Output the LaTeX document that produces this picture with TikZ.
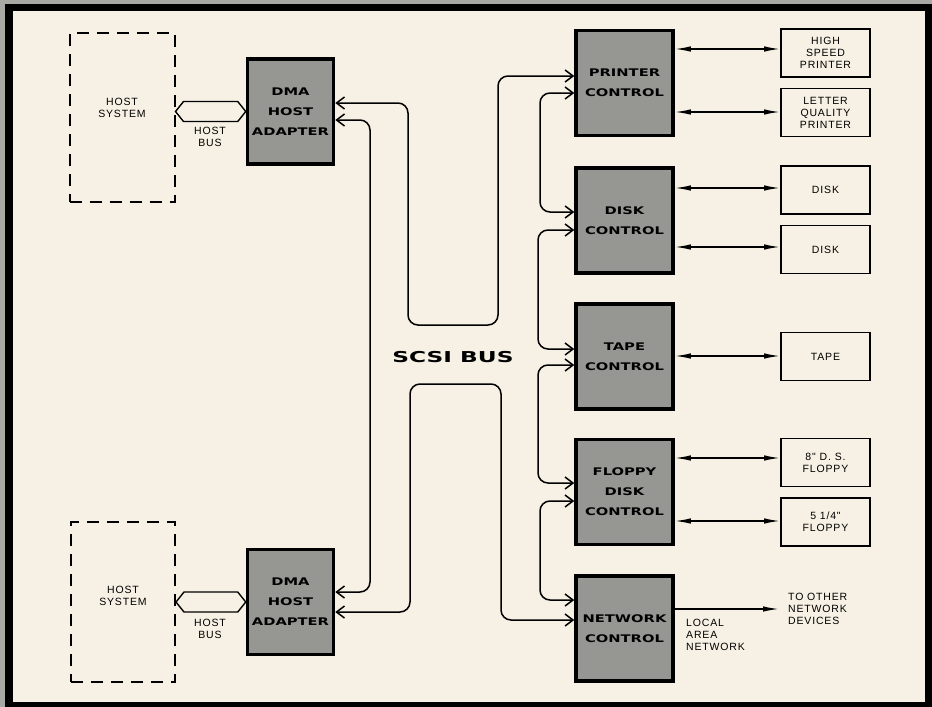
\documentclass[tikz,border=0pt]{standalone}
\usepackage{fontspec}
\usepackage{tikz}
\usetikzlibrary{arrows.meta,calc}
\newfontfamily\wideface[FakeStretch=1.4]{DejaVu Sans Bold}
\newfontfamily\busface[FakeStretch=1.55]{DejaVu Sans Bold}
\newfontfamily\plainface[LetterSpace=8]{Liberation Sans}
\definecolor{paper}{RGB}{246,241,228}
\definecolor{mount}{RGB}{168,168,164}
\definecolor{boxgray}{RGB}{150,150,146}

\begin{document}
\begin{tikzpicture}[x=1pt,y=-1pt,
  ctl/.style={draw,line width=3.5pt,fill=boxgray,minimum width=97pt,minimum height=105pt,
              align=center,inner sep=2pt,font=\wideface\fontsize{10.5}{20}\selectfont},
  dev/.style={draw,line width=1.8pt,fill=paper,minimum width=89pt,minimum height=48pt,
              align=center,font=\plainface\fontsize{10.5}{12}\selectfont},
  host/.style={draw,line width=2pt,dash pattern=on 12pt off 8pt,align=center,
               font=\plainface\fontsize{10.5}{12}\selectfont},
  lbl/.style={align=left,inner sep=0pt,font=\plainface\fontsize{10.5}{12}\selectfont},
  bus/.style={line width=1.5pt,rounded corners=10pt,
              {Straight Barb[length=8pt,width=12pt]}-{Straight Barb[length=8pt,width=12pt]}},
  link/.style={line width=1.5pt,{Latex[length=16pt,width=5.5pt]}-{Latex[length=16pt,width=5.5pt]}},
  hbus/.style={line width=1.4pt,line join=miter}
]
% mount and frame
\fill[mount] (0,0) rectangle (932,707);
\fill[black] (5,4) rectangle (932,707);
\fill[paper] (13,11) rectangle (925,702);

% hosts and adapters
\node[host,minimum width=105pt,minimum height=169pt] (hs1) at (122,117.5) {HOST\\SYSTEM\\[7pt]};
\node[host,minimum width=104pt,minimum height=160pt] (hs2) at (123,602) {HOST\\SYSTEM\\};
\node[ctl,minimum width=86pt] (dma1) at (290.5,111.5) {DMA\\HOST\\ADAPTER};
\node[ctl,minimum width=86pt] (dma2) at (290.5,602) {DMA\\HOST\\ADAPTER};

\draw[hbus] (hs1.east |- dma1.west) -- ++(8,-10) -- ($(dma1.west)+(-8,-10)$) -- (dma1.west)
  -- ($(dma1.west)+(-8,10)$) -- ($(hs1.east |- dma1.west)+(8,10)$) -- cycle;
\draw[hbus] (hs2.east |- dma2.west) -- ++(8,-10) -- ($(dma2.west)+(-8,-10)$) -- (dma2.west)
  -- ($(dma2.west)+(-8,10)$) -- ($(hs2.east |- dma2.west)+(8,10)$) -- cycle;
\node[lbl,align=center] (hb1) at (210,137) {HOST\\BUS};
\node[lbl,align=center] (hb2) at (210,629) {HOST\\BUS};

% controllers
\node[ctl] (prn) at (624.5,83) {PRINTER\\CONTROL};
\node[ctl] (dsk) at (624.5,220.5) {DISK\\CONTROL};
\node[ctl] (tpc) at (624.5,356.5) {TAPE\\CONTROL};
\node[ctl] (flc) at (624.5,492) {FLOPPY\\DISK\\CONTROL};
\node[ctl] (net) at (624.5,628.5) {NETWORK\\CONTROL};

\node[font=\busface\fontsize{15}{18}\selectfont] (scsi) at (453,357) {SCSI BUS};

% bus rails
\draw[bus] (dma1.east |- 0,103) -- (408,103) -- (408,325) -- (498,325) -- (498,76) -- (prn.west |- 0,76);
\draw[bus] (dma1.east |- 0,120) -- (370,120) -- (370,592) -- (dma2.east |- 0,592);
\draw[bus] (dma2.east |- 0,612) -- (410,612) -- (410,384) -- (501,384) -- (501,620) -- (net.west |- 0,620);
\draw[bus] (prn.west |- 0,93) -- (540,93) -- (540,212) -- (dsk.west |- 0,212);
\draw[bus] (dsk.west |- 0,230) -- (538,230) -- (538,349) -- (tpc.west |- 0,349);
\draw[bus] (tpc.west |- 0,365) -- (538,365) -- (538,483) -- (flc.west |- 0,483);
\draw[bus] (flc.west |- 0,501) -- (540,501) -- (540,600) -- (net.west |- 0,600);

% devices
\node[dev] (hsp) at (825.5,53) {HIGH\\SPEED\\PRINTER};
\node[dev] (lqp) at (825.5,112.5) {LETTER\\QUALITY\\PRINTER};
\node[dev] (dk1) at (825.5,190) {DISK};
\node[dev] (dk2) at (825.5,249.5) {DISK};
\node[dev] (tap) at (825.5,356.5) {TAPE};
\node[dev] (fl8) at (825.5,462.5) {8" D. S.\\FLOPPY};
\node[dev] (fl5) at (825.5,522) {5 1/4"\\FLOPPY};

\draw[link] (prn.east |- 0,49) -- (hsp.west |- 0,49);
\draw[link] (prn.east |- 0,112) -- (lqp.west |- 0,112);
\draw[link] (dsk.east |- 0,188) -- (dk1.west |- 0,188);
\draw[link] (dsk.east |- 0,247) -- (dk2.west |- 0,247);
\draw[link] (tpc.east |- 0,356) -- (tap.west |- 0,356);
\draw[link] (flc.east |- 0,458) -- (fl8.west |- 0,458);
\draw[link] (flc.east |- 0,521) -- (fl5.west |- 0,521);

% network
\node[lbl,anchor=north west] (lan) at (686,619) {LOCAL\\AREA\\NETWORK};
\node[lbl,anchor=west,inner xsep=9pt] (oth) at (779,609) {TO OTHER\\NETWORK\\DEVICES};
\draw[line width=1.5pt,-{Latex[length=16pt,width=5.5pt]}] (net.east |- oth.west) -- (oth.west);
\end{tikzpicture}
\end{document}
